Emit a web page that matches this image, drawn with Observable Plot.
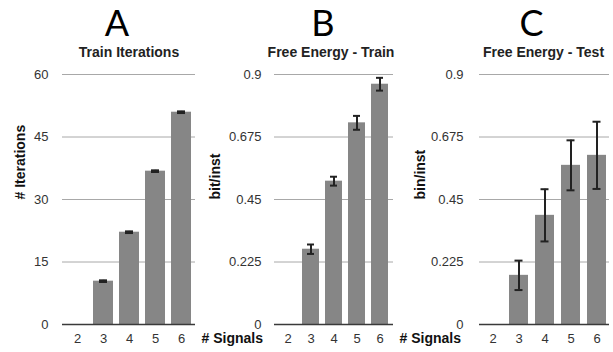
<!DOCTYPE html>
<html>
<head>
<meta charset="utf-8">
<script src="https://cdn.jsdelivr.net/npm/d3@7"></script>
<script src="https://cdn.jsdelivr.net/npm/@observablehq/plot@0.6"></script>
<style>
  html, body { margin: 0; padding: 0; background: white; }
  #wrap { position: relative; width: 613px; height: 352px; overflow: hidden; background: white; }
  #wrap svg { position: absolute; top: 0; }
</style>
</head>
<body>
<div id="wrap"></div>
<script>
// ---- data ----
const signals = [2, 3, 4, 5, 6];

const panelLetters = ["A", "B", "C"];
const panelTitles = ["Train Iterations", "Free Energy - Train", "Free Energy - Test"];
const yLabels = ["# Iterations", "bit/inst", "bin/inst"];
const xLabel = "# Signals";

const itersTicks = [0, 15, 30, 45, 60];
const energyTicks = [0, 0.225, 0.45, 0.675, 0.9];

// values for signals 2..6 (null = no bar)
const itersMean = [null, 10.4, 22.15, 36.8, 50.95];
const itersErr = [null, 0.2, 0.2, 0.2, 0.2];

const trainMean = [null, 0.271, 0.516, 0.726, 0.865];
const trainErr = [null, 0.017, 0.016, 0.025, 0.023];

const testMean = [null, 0.177, 0.393, 0.573, 0.609];
const testErr = [null, 0.053, 0.094, 0.09, 0.121];

// ---- drawing ----
function rows(mean, err) {
  return signals.map((s, i) => ({signals: String(s), value: mean[i], err: err[i]}))
    .filter(d => d.value != null);
}

function panel(cfg) {
  const data = rows(cfg.mean, cfg.err);
  const marks = [
    Plot.ruleY(cfg.ticks.slice(1), {stroke: "#a8a8a8", strokeWidth: 1}),
    Plot.barY(data, {x: "signals", y: "value", fill: "#868686"}),
    Plot.ruleY([0], {stroke: "#3a3a3a", strokeWidth: 1.3}),
    Plot.ruleX(data, {x: "signals", y1: d => d.value - d.err, y2: d => d.value + d.err, stroke: "#222", strokeWidth: 2}),
    Plot.tickY(data, {x: "signals", y: d => d.value - d.err, stroke: "#222", strokeWidth: 2, insetLeft: cfg.capInset, insetRight: cfg.capInset}),
    Plot.tickY(data, {x: "signals", y: d => d.value + d.err, stroke: "#222", strokeWidth: 2, insetLeft: cfg.capInset, insetRight: cfg.capInset}),
    Plot.axisY({ticks: cfg.ticks, tickSize: 0, tickPadding: cfg.yPad, fontSize: 13, label: null, tickFormat: d => String(d)}),
    Plot.axisX({tickSize: 0, tickPadding: 9, fontSize: 13, label: null}),
    Plot.text([cfg.ylabel], {text: d => d, frameAnchor: "left", rotate: -90, dx: cfg.ylabelDx, fontSize: 14, fontWeight: "bold", fill: "#111"}),
    Plot.text([cfg.letter], {text: d => d, frameAnchor: "top", dx: cfg.letterDx, dy: -64, fontSize: 36, fontFamily: "Lato", fill: "#000"}),
    Plot.text([cfg.title], {text: d => d, frameAnchor: "top", dx: cfg.titleDx, dy: -27, fontSize: 14, fontWeight: "bold", fill: "#222"})
  ];
  if (cfg.showX) {
    marks.push(Plot.text([xLabel], {text: d => d, frameAnchor: "bottom-right", textAnchor: "start", dx: 6, dy: 18, fontSize: 14, fontWeight: "bold", fill: "#111"}));
  }
  const svg = Plot.plot({
    width: cfg.width,
    height: 352,
    marginLeft: cfg.ml,
    marginRight: cfg.mr,
    marginTop: 74,
    marginBottom: 28,
    x: {domain: signals.map(String), paddingInner: cfg.pi, paddingOuter: cfg.pi / 2},
    y: {domain: [cfg.ticks[0], cfg.ticks[cfg.ticks.length - 1]]},
    style: {background: "transparent", fontFamily: "'Liberation Sans', Arial, sans-serif", color: "#333", overflow: "visible"},
    marks
  });
  svg.style.left = cfg.left + "px";
  document.getElementById("wrap").appendChild(svg);
}

panel({letter: panelLetters[0], title: panelTitles[0], ylabel: yLabels[0], ticks: itersTicks,
  mean: itersMean, err: itersErr, left: 0, width: 275, ml: 62, mr: 80, pi: 0.25, capInset: 6,
  yPad: 14, ylabelDx: -42, letterDx: -12, titleDx: 0, showX: true});
panel({letter: panelLetters[1], title: panelTitles[1], ylabel: yLabels[1], ticks: energyTicks,
  mean: trainMean, err: trainErr, left: 200, width: 275, ml: 74, mr: 82, pi: 0.25, capInset: 5,
  yPad: 13, ylabelDx: -59, letterDx: -11, titleDx: -3, showX: true});
panel({letter: panelLetters[2], title: panelTitles[2], ylabel: yLabels[2], ticks: energyTicks,
  mean: testMean, err: testErr, left: 400, width: 213, ml: 79, mr: 4, pi: 0.27, capInset: 5.5,
  yPad: 16, ylabelDx: -59, letterDx: -13, titleDx: -1, showX: false});
</script>
</body>
</html>
